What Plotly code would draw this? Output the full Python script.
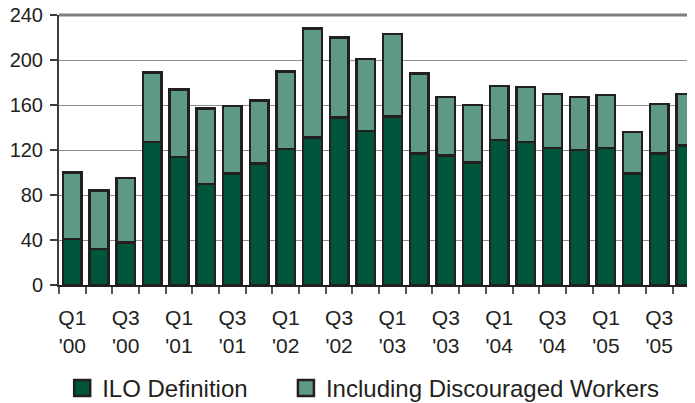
import plotly.graph_objects as go

quarters = ["Q1 '00", "Q2 '00", "Q3 '00", "Q4 '00",
            "Q1 '01", "Q2 '01", "Q3 '01", "Q4 '01",
            "Q1 '02", "Q2 '02", "Q3 '02", "Q4 '02",
            "Q1 '03", "Q2 '03", "Q3 '03", "Q4 '03",
            "Q1 '04", "Q2 '04", "Q3 '04", "Q4 '04",
            "Q1 '05", "Q2 '05", "Q3 '05", "Q4 '05"]
ilo = [41, 32, 38, 127, 114, 90, 99, 108, 121, 131, 149, 137,
       150, 117, 115, 109, 129, 127, 122, 120, 122, 99, 117, 124]
total = [100, 84, 95, 189, 174, 157, 159, 164, 190, 228, 220, 201,
         223, 188, 167, 160, 177, 176, 170, 167, 169, 136, 161, 170]
tick_labels = ["Q1<br>'00", "Q3<br>'00", "Q1<br>'01", "Q3<br>'01",
               "Q1<br>'02", "Q3<br>'02", "Q1<br>'03", "Q3<br>'03",
               "Q1<br>'04", "Q3<br>'04", "Q1<br>'05", "Q3<br>'05"]
y_ticks = [0, 40, 80, 120, 160, 200, 240]
series_names = ["ILO Definition", "Including Discouraged Workers"]

DARK = "#00563d"
LIGHT = "#5e9985"
EDGE = "#231f20"
NARROW = "Liberation Sans Narrow, Arial Narrow, Liberation Sans, sans-serif"
GAP = "\u00a0" * 5  # extra space between the two legend entries

x = list(range(len(quarters)))
extra = [t - i for t, i in zip(total, ilo)]

fig = go.Figure()
fig.add_trace(go.Bar(x=x, y=ilo, name=series_names[0], marker=dict(color=DARK, line=dict(color=EDGE, width=2.5)),
                     showlegend=False, hovertext=quarters))
fig.add_trace(go.Bar(x=x, y=extra, name=series_names[1],
                     marker=dict(color=LIGHT, line=dict(color=EDGE, width=2.5)),
                     showlegend=False, hovertext=quarters))
# legend entries
fig.add_trace(go.Scatter(x=[None], y=[None], mode="markers", name=series_names[0] + GAP,
                         marker=dict(symbol="square", size=16, color=DARK, line=dict(color=EDGE, width=2.5))))
fig.add_trace(go.Scatter(x=[None], y=[None], mode="markers", name=series_names[1],
                         marker=dict(symbol="square", size=16, color=LIGHT, line=dict(color=EDGE, width=2.5))))

# page body has an 8px margin, so the figure is sized to fill the rest of the window
fig.update_layout(
    width=687, height=395,
    margin=dict(l=51, r=0, t=7, b=118, autoexpand=False),
    paper_bgcolor="white", plot_bgcolor="white",
    barmode="stack", bargap=0.3,
    font=dict(family="Liberation Sans, Arial, sans-serif", color=EDGE),
    showlegend=True,
    legend=dict(orientation="h", x=0.005, xanchor="left", y=-0.383, yanchor="middle",
                traceorder="normal",
                font=dict(family=NARROW, size=24, color=EDGE),
                bgcolor="rgba(0,0,0,0)"),
    xaxis=dict(range=[-0.5, 23.34], tickmode="array", tickvals=x[0::2], ticktext=tick_labels,
               ticks="", showgrid=False, zeroline=False, automargin=False,
               showline=True, linecolor=EDGE, linewidth=2,
               tickfont=dict(family=NARROW, size=21, color=EDGE),
               ticklabelstandoff=13,
               minor=dict(tickmode="array", tickvals=[v - 0.5 for v in x], ticks="outside",
                          ticklen=7, tickwidth=1.5, tickcolor="#555555", showgrid=False)),
    yaxis=dict(range=[0, 240], tickmode="array", tickvals=y_ticks, ticks="outside", ticklen=7,
               tickcolor="#3d3d3d", tickwidth=1.5, automargin=False, ticklabeloverflow="allow",
               showline=True, linecolor="#3d3d3d", linewidth=2, ticklabelstandoff=3,
               showgrid=True, gridcolor="#8f8f8f", gridwidth=1, zeroline=False,
               tickfont=dict(family="Liberation Sans, Arial, sans-serif", size=20, color=EDGE)),
    shapes=[dict(type="line", xref="paper", yref="paper", x0=0, x1=1, y0=1, y1=1,
                 line=dict(color="#7f7f7f", width=3))],
)

fig.write_html("out.html")
